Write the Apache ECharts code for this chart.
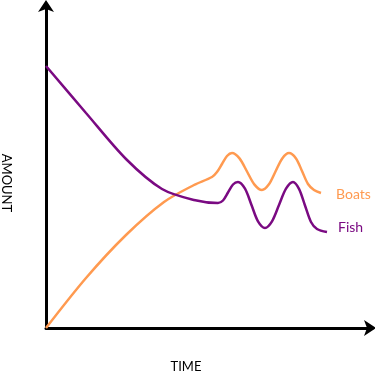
<!DOCTYPE html>
<html><head><meta charset="utf-8">
<script src="https://cdn.jsdelivr.net/npm/echarts@6/dist/echarts.min.js"></script>
<style>html,body{margin:0;padding:0;background:#fff}#c{width:375px;height:373px}</style>
</head><body><div id="c"></div>
<script>
const fishX = [0, 40, 80, 116, 148, 172, 177, 182, 187, 192, 199, 205.5, 212, 219, 226, 233, 240, 247, 253, 259, 265, 271, 281];
const fishY = [262, 215, 169, 139, 128, 125, 127.5, 135.5, 143.5, 146, 139.3, 123, 106.7, 100, 106.7, 123, 139.3, 146, 139.1, 122.5, 106, 99, 96];
const boatsX = [0, 40, 80, 118, 148, 166, 171, 176, 181, 186, 193.5, 201, 208.5, 216, 222.75, 229.5, 236.25, 243, 250, 256, 262, 268, 275];
const boatsY = [0, 50, 93, 126, 143, 151, 156, 164, 172, 175, 169.6, 156.5, 143.4, 138, 143.4, 156.5, 169.6, 175, 169.6, 157, 144, 138, 135];
const seriesNames = ['Boats', 'Fish'];
const axisNames = ['TIME', 'AMOUNT'];

const chart = echarts.init(document.getElementById('c'));
const zip = (xs, ys) => xs.map((x, i) => [x, ys[i]]);
const font = 'Lato, "Open Sans", sans-serif';
const axisCommon = {splitLine: {show: false}, axisTick: {show: false}, axisLabel: {show: false},
  axisLine: {lineStyle: {color: '#000', width: 3}, symbol: ['none', 'arrow'], symbolSize: [12, 12], symbolOffset: [0, 4]}};
chart.setOption({
  animation: false,
  grid: {left: 46, top: 4, width: 326, height: 324},
  xAxis: Object.assign({type: 'value', min: 0, max: 326}, axisCommon),
  yAxis: Object.assign({type: 'value', min: 0, max: 324}, axisCommon),
  series: [
    {name: seriesNames[0], type: 'line', data: zip(boatsX, boatsY), smooth: 0.3, showSymbol: false,
     lineStyle: {color: '#FF9A50', width: 2.5},
     endLabel: {show: true, formatter: seriesNames[0], color: '#FF9A50', fontSize: 14, fontFamily: font, distance: 15, offset: [0, 1]}},
    {name: seriesNames[1], type: 'line', data: zip(fishX, fishY), smooth: 0.3, showSymbol: false,
     lineStyle: {color: '#7A0A82', width: 2.5},
     endLabel: {show: true, formatter: seriesNames[1], color: '#7A0A82', fontSize: 14, fontFamily: font, distance: 11, offset: [0, -5]}}
  ],
  graphic: [
    {type: 'text', x: 186, y: 367, style: {text: axisNames[0], font: '13px ' + font, fill: '#000', textAlign: 'center', textVerticalAlign: 'middle'}},
    {type: 'text', x: 6, y: 183, rotation: -Math.PI / 2, style: {text: axisNames[1], font: '13px ' + font, fill: '#000', textAlign: 'center', textVerticalAlign: 'middle'}}
  ]
});
</script></body></html>
